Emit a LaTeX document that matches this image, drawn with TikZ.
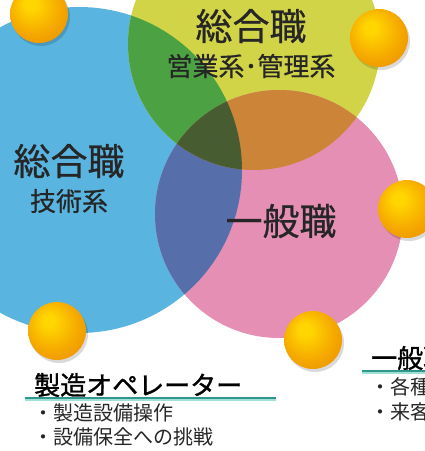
\documentclass[tikz,border=0pt]{standalone}
\usepackage{fontspec}
\setmainfont{Noto Sans CJK JP}
\newfontfamily\thickcjk[FakeBold=1.2]{Noto Sans CJK JP}
\newfontfamily\medcjk[FakeBold=0.6]{Noto Sans CJK JP}
\definecolor{vennblue}{RGB}{90,180,224}
\definecolor{vennyellow}{RGB}{210,212,72}
\definecolor{vennpink}{RGB}{229,143,180}
\definecolor{venngreen}{RGB}{76,162,66}
\definecolor{vennorange}{RGB}{204,132,56}
\definecolor{vennnavy}{RGB}{86,110,170}
\definecolor{venndark}{RGB}{72,92,50}
\definecolor{orbyellow}{RGB}{255,214,0}
\definecolor{orbgold}{RGB}{246,170,0}
\definecolor{orbrim}{RGB}{230,140,0}
\definecolor{ruleteal}{RGB}{50,150,140}
\definecolor{ruleaqua}{RGB}{160,225,215}
\pgfdeclareradialshading{orbshade}{\pgfpoint{-8bp}{10bp}}{color(0bp)=(orbyellow);color(5bp)=(orbyellow);color(22bp)=(orbgold);color(38bp)=(orbrim);color(50bp)=(orbrim)}
\tikzset{
  orb/.style={circle, minimum size=58pt, inner sep=0pt, shading=orbshade},
  orbshadow/.style={circle, minimum size=58pt, inner sep=0pt, fill=black, opacity=.15},
  bigname/.style={font=\medcjk\fontsize{37}{37}\selectfont, text=black!85, inner sep=0pt},
  subname/.style={font=\medcjk\fontsize{26}{26}\selectfont, text=black!85, inner sep=0pt},
  heading/.style={font=\thickcjk\fontsize{26}{26}\selectfont, text=black, inner sep=0pt, anchor=west},
  item/.style={font=\fontsize{20}{20}\selectfont, text=black!85, inner sep=0pt, anchor=west},
}
\begin{document}
\begin{tikzpicture}[x=1pt,y=-1pt]
\useasboundingbox (0,0) rectangle (425,451);
\clip (0,0) rectangle (425,451);
\coordinate (tech) at (79,170);
\coordinate (sales) at (254,44);
\coordinate (general) at (279,214);

% three circles
\fill[vennblue] (tech) circle[radius=163pt];
\fill[vennyellow] (sales) circle[radius=126pt];
\fill[vennpink] (general) circle[radius=124pt];
\begin{scope}
\clip (tech) circle[radius=163pt];
\fill[venngreen] (sales) circle[radius=126pt];
\fill[vennnavy] (general) circle[radius=124pt];
\end{scope}
\begin{scope}
\clip (sales) circle[radius=126pt];
\fill[vennorange] (general) circle[radius=124pt];
\clip (tech) circle[radius=163pt];
\fill[venndark] (general) circle[radius=124pt];
\end{scope}

% balls
\foreach \name/\x/\y in {b1/39/14, b2/379/38, b3/407/209, b4/57/331, b5/313/340}
{
\node at (\x+2,\y+3) [orbshadow] {};
\node (\name) at (\x,\y) [orb] {};
}

% circle labels
\node (t1) at (251,26) [bigname] {総合職};
\node (t2) at (251,66) [subname] {営業系･管理系};
\node (l1) at (69,161) [bigname] {総合職};
\node (l2) at (69,201) [subname] {技術系};
\node (g1) at (281,221) [bigname] {一般職};

% captions
\node (h1) at (34,385) [heading] {製造オペレーター};
\coordinate (u1) at (25,398);
\coordinate (u2) at (276,398);
\draw[ruleaqua, line width=2pt] ([yshift=-1.5pt]u1) -- ([yshift=-1.5pt]u2);
\draw[ruleteal, line width=1.6pt] (u1) -- (u2);
\node (i1) at (33,413) [item] {・製造設備操作};
\node (i2) at (33,437) [item] {・設備保全への挑戦};

\node (h2) at (371,358) [heading] {一般職};
\coordinate (u3) at (362,371);
\coordinate (u4) at (440,371);
\draw[ruleaqua, line width=2pt] ([yshift=-1.5pt]u3) -- ([yshift=-1.5pt]u4);
\draw[ruleteal, line width=1.6pt] (u3) -- (u4);
\node (i3) at (370,387) [item] {・各種事務};
\node (i4) at (370,412) [item] {・来客対応};
\end{tikzpicture}
\end{document}
